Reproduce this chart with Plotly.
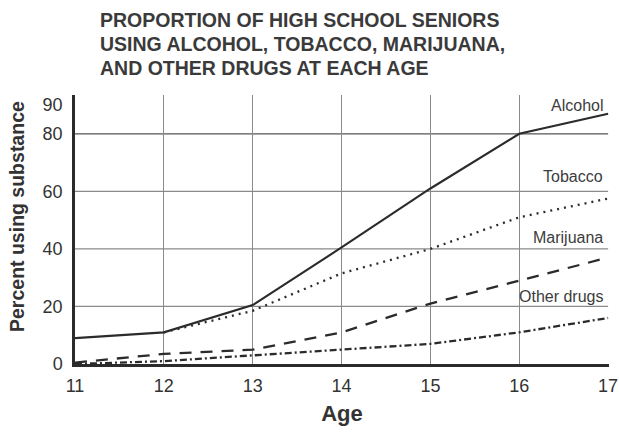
import plotly.graph_objects as go

ages = [11, 12, 13, 14, 15, 16, 17]
alcohol = [9, 11, 20.5, 40.5, 61, 80, 87]
tobacco_ages = [12, 13, 14, 15, 16, 17]
tobacco = [11, 18.5, 31.5, 40, 51, 57.5]
marijuana = [0.5, 3.5, 5, 11, 21, 29, 37]
other_drugs = [0, 1, 3, 5, 7, 11, 16]

y_ticks = [0, 20, 40, 60, 80, 90]
grid_y = [20, 40, 60, 80]
labels = ["Alcohol", "Tobacco", "Marijuana", "Other drugs"]
label_y = [90, 65, 44, 23.5]
title_lines = [
    "PROPORTION OF HIGH SCHOOL SENIORS",
    "USING ALCOHOL, TOBACCO, MARIJUANA,",
    "AND OTHER DRUGS AT EACH AGE",
]
y_title = "Percent using substance"

FONT = "Liberation Sans, Arial, sans-serif"
INK = "#2b2b2b"
W, H = 619, 434
ML, MR, MT, MB = 75, 10, 95, 70
PLOT_H = H - MT - MB
PLOT_W = W - ML - MR

fig = go.Figure()
fig.add_trace(go.Scatter(x=ages, y=other_drugs, mode="lines",
                         line=dict(color=INK, width=2.3, dash="7px,3px,2px,3px")))
fig.add_trace(go.Scatter(x=ages, y=marijuana, mode="lines",
                         line=dict(color=INK, width=2.3, dash="12px,9px")))
fig.add_trace(go.Scatter(x=tobacco_ages, y=tobacco, mode="lines",
                         line=dict(color=INK, width=2.3, dash="2px,5px")))
fig.add_trace(go.Scatter(x=ages, y=alcohol, mode="lines",
                         line=dict(color=INK, width=2.1)))

for gy in grid_y:
    fig.add_shape(type="line", xref="x", yref="y", x0=11, x1=17, y0=gy, y1=gy,
                  line=dict(color="#555" if gy == 80 else "#8a8a8a", width=1.2),
                  layer="below")

for txt, ly in zip(labels, label_y):
    fig.add_annotation(x=17, y=ly, xref="x", yref="y", text=txt, showarrow=False,
                       xanchor="right", xshift=-3,
                       font=dict(family=FONT, size=16, color="#3c3c3c"))

for i, line in enumerate(title_lines):
    py = 20 + 24 * i
    fig.add_annotation(x=(98 - ML) / PLOT_W, y=(H - MB - py) / PLOT_H,
                       xref="paper", yref="paper", text=line, showarrow=False,
                       xanchor="left", yanchor="middle",
                       font=dict(family=FONT, size=19.5, color="#3a3a3a", weight="bold"))

fig.add_annotation(x=(17 - ML) / PLOT_W, y=(H - MB - 217) / PLOT_H,
                   xref="paper", yref="paper", text=y_title, showarrow=False,
                   textangle=-90, xanchor="center", yanchor="middle",
                   font=dict(family=FONT, size=19.5, color="#333", weight="bold"))

fig.update_layout(
    width=W, height=H,
    margin=dict(l=ML, r=MR, t=MT, b=MB, autoexpand=False),
    paper_bgcolor="white", plot_bgcolor="white",
    showlegend=False,
    font=dict(family=FONT, color="#333"),
)

fig.update_xaxes(
    range=[11, 17.01], tickvals=ages, showgrid=True, gridcolor="#8a8a8a", gridwidth=1.2,
    showline=True, linecolor=INK, linewidth=3, ticks="", zeroline=False,
    ticklabelstandoff=3, ticklabeloverflow="allow", automargin=False,
    tickfont=dict(size=18, color="#333"),
    title=dict(text="Age", font=dict(size=22, color="#333", weight="bold"), standoff=12),
)
fig.update_yaxes(
    range=[0, 93.5], tickvals=y_ticks, showgrid=False, zeroline=False,
    showline=True, linecolor=INK, linewidth=2.5, ticks="",
    ticklabelstandoff=6, automargin=False,
    tickfont=dict(size=18, color="#333"),
)

fig.write_html("out.html", config={"displayModeBar": False},
               post_script="document.body.style.margin='0';")
